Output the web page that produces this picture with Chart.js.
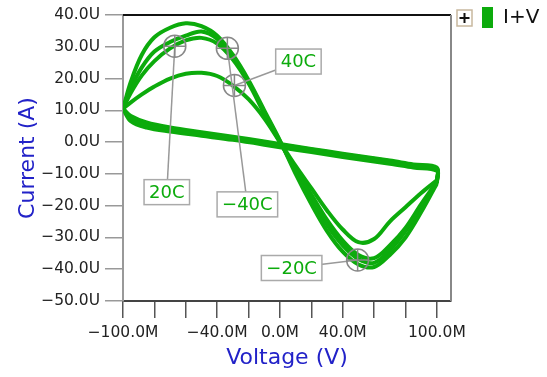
<!DOCTYPE html>
<html>
<head>
<meta charset="utf-8">
<script src="https://cdn.jsdelivr.net/npm/chart.js@4.4.0/dist/chart.umd.min.js"></script>
<style>
  html, body { margin: 0; padding: 0; background: #fff; }
  canvas { display: block; }
</style>
</head>
<body>
<canvas id="ivChart" width="547" height="377"></canvas>
<script>
// forward sweep (-100M -> +100M), current in uA
const voltsUp = [-100, -95, -88, -80, -70, -60, -50, -40, -30, -20, -10, 0, 10, 20, 30, 40, 50, 60, 70, 80, 90, 100];
const upMinus40 = [10.5, 19, 27.5, 33, 36, 37.4, 36.5, 33.5, 27.5, 19.5, 10, 0.5, -10, -19.5, -28, -34.5, -38.5, -39.3, -35.5, -30, -22, -13];
const upMinus20 = [10.5, 17, 23.5, 28.5, 31.5, 33.5, 34.8, 32.5, 27, 19, 9.5, 0.3, -9, -17.5, -26, -32.5, -36.8, -38, -34, -28, -20.5, -12.5];
const up20 = [10.5, 15.5, 21, 25.5, 29.5, 32, 32.8, 31, 26, 18.5, 9, 0, -8.5, -16.5, -24.5, -31, -35.5, -36.5, -32.5, -27, -19.5, -12.5];
const up40 = [10.5, 12.5, 15, 17.5, 20, 21.5, 21.8, 20.8, 17.8, 13.5, 7.5, 0, -7.5, -14.5, -21.5, -27.5, -31.5, -30.5, -25, -20.5, -16, -12];

// return sweep (+100M -> -100M)
const voltsDown = [100, 100, 85, 70, 50, 30, 10, -10, -30, -50, -70, -85, -95, -100];
const downMinus40 = [-13, -8.5, -7.5, -6.3, -4.9, -3.4, -1.9, -0.3, 1.2, 2.5, 3.9, 5.3, 7.3, 10.5];
const downMinus20 = [-12.5, -8, -7, -5.8, -4.4, -2.9, -1.4, 0.2, 1.7, 3.1, 4.6, 6.2, 8.2, 10.5];
const down20 = [-12.5, -9, -8, -6.8, -5.4, -3.9, -2.4, -0.8, 0.7, 2, 3.3, 4.6, 6.6, 10.5];
const down40 = [-12, -8.3, -7.3, -6, -4.6, -3.1, -1.6, 0, 1.4, 2.8, 4.3, 5.8, 7.8, 10.5];

const xTicksLabelled = [-100, -40, 0, 40, 100];

// cursor markers
const markerTemps = ['20C', '40C', '\u221240C', '\u221220C'];
const markerVolts = [-67, -29, -33.5, 49.5];
const markerCurrents = [30.2, 17.8, 29.5, -37.1];

const legendLabel = 'I+V';

const GREEN = '#0cab0c';
const BLUE = '#2222c8';
const FONT = '"DejaVu Sans", Verdana, sans-serif';

// label box offsets from marker (pixels)
const labelOffsets = [[-8, 146], [64, -24], [20, 156], [-66, 8]];

function toPoints(xs, ys) {
  return xs.map((x, i) => ({ x: x, y: ys[i] }));
}

function fmt(v, unit) {
  return (v < 0 ? '\u2212' : '') + Math.abs(v).toFixed(1) + unit;
}

const loops = [
  [upMinus40, downMinus40],
  [upMinus20, downMinus20],
  [up20, down20],
  [up40, down40]
];

const datasets = [];
loops.forEach(([up, down]) => {
  datasets.push({ data: toPoints(voltsUp, up) });
  datasets.push({ data: toPoints(voltsDown, down) });
});
datasets.forEach(ds => {
  ds.showLine = true;
  ds.borderColor = GREEN;
  ds.borderWidth = 4;
  ds.pointRadius = 0;
  ds.tension = 0.35;
  ds.fill = false;
});

const decorPlugin = {
  id: 'decor',
  afterDatasetsDraw(chart) {
    const ctx = chart.ctx;
    const xs = chart.scales.x;
    const ys = chart.scales.y;
    const area = chart.chartArea;

    // frame: top and right
    ctx.save();
    ctx.lineWidth = 2;
    ctx.strokeStyle = '#111';
    ctx.beginPath();
    ctx.moveTo(area.left, area.top);
    ctx.lineTo(area.right, area.top);
    ctx.stroke();
    ctx.strokeStyle = '#888';
    ctx.beginPath();
    ctx.moveTo(area.right, area.top);
    ctx.lineTo(area.right, area.bottom);
    ctx.stroke();

    // markers + labels
    ctx.font = '18px ' + FONT;
    markerTemps.forEach((t, i) => {
      const px = xs.getPixelForValue(markerVolts[i]);
      const py = ys.getPixelForValue(markerCurrents[i]);
      const bx = px + labelOffsets[i][0];
      const by = py + labelOffsets[i][1];
      const r = 11;

      ctx.strokeStyle = '#999';
      ctx.lineWidth = 1.5;
      ctx.beginPath();
      ctx.moveTo(px, py);
      ctx.lineTo(bx, by);
      ctx.stroke();

      ctx.strokeStyle = '#888';
      ctx.beginPath();
      ctx.arc(px, py, r, 0, Math.PI * 2);
      ctx.moveTo(px - r, py);
      ctx.lineTo(px + r, py);
      ctx.moveTo(px, py - r);
      ctx.lineTo(px, py + r);
      ctx.stroke();

      const w = ctx.measureText(t).width + 10;
      const h = 25;
      ctx.fillStyle = '#fff';
      ctx.fillRect(bx - w / 2, by - h / 2, w, h);
      ctx.strokeStyle = '#aaa';
      ctx.lineWidth = 1.5;
      ctx.strokeRect(bx - w / 2, by - h / 2, w, h);
      ctx.fillStyle = GREEN;
      ctx.textAlign = 'center';
      ctx.textBaseline = 'middle';
      ctx.fillText(t, bx, by + 1);
    });

    // legend
    ctx.strokeStyle = '#c8b89e';
    ctx.lineWidth = 1.5;
    ctx.fillStyle = '#fff';
    ctx.fillRect(457, 10, 15, 16);
    ctx.strokeRect(457, 10, 15, 16);
    ctx.strokeStyle = '#111';
    ctx.lineWidth = 2;
    ctx.beginPath();
    ctx.moveTo(459.5, 18);
    ctx.lineTo(469.5, 18);
    ctx.moveTo(464.5, 13);
    ctx.lineTo(464.5, 23);
    ctx.stroke();
    ctx.fillStyle = GREEN;
    ctx.fillRect(482, 7, 11, 21);
    ctx.fillStyle = '#111';
    ctx.font = '20px ' + FONT;
    ctx.textAlign = 'left';
    ctx.textBaseline = 'middle';
    ctx.fillText(legendLabel, 503, 18);
    ctx.restore();
  }
};

new Chart(document.getElementById('ivChart'), {
  type: 'scatter',
  data: { datasets: datasets },
  options: {
    responsive: false,
    animation: false,
    layout: { padding: { top: 15, right: 96, left: 0, bottom: 0 } },
    plugins: {
      legend: { display: false },
      tooltip: { enabled: false }
    },
    scales: {
      x: {
        type: 'linear',
        min: -100,
        max: 109,
        afterFit: s => { s.height = 76; },
        ticks: {
          stepSize: 20,
          includeBounds: false,
          autoSkip: false,
          maxRotation: 0,
          padding: 6,
          color: '#222',
          font: { family: FONT, size: 15.5 },
          callback: v => xTicksLabelled.includes(v) ? fmt(v, 'M') : ''
        },
        grid: { drawOnChartArea: false, drawTicks: true, tickLength: 17, color: '#555', lineWidth: 1.5 },
        border: { display: true, color: '#444', width: 2 },
        title: {
          display: true,
          text: 'Voltage (V)',
          color: BLUE,
          font: { family: FONT, size: 22 },
          padding: { top: 0, bottom: 6 }
        }
      },
      y: {
        min: -50,
        max: 40,
        afterFit: s => { s.width = 123; },
        ticks: {
          stepSize: 10,
          padding: 5,
          color: '#222',
          font: { family: FONT, size: 15.5 },
          callback: v => fmt(v, 'U')
        },
        grid: { drawOnChartArea: false, drawTicks: true, tickLength: 18, color: '#999', lineWidth: 1.5 },
        border: { display: true, color: '#999', width: 2 },
        title: {
          display: true,
          text: 'Current (A)',
          color: BLUE,
          font: { family: FONT, size: 22 },
          padding: { top: 15, bottom: 0 }
        }
      }
    }
  },
  plugins: [decorPlugin]
});
</script>
</body>
</html>
